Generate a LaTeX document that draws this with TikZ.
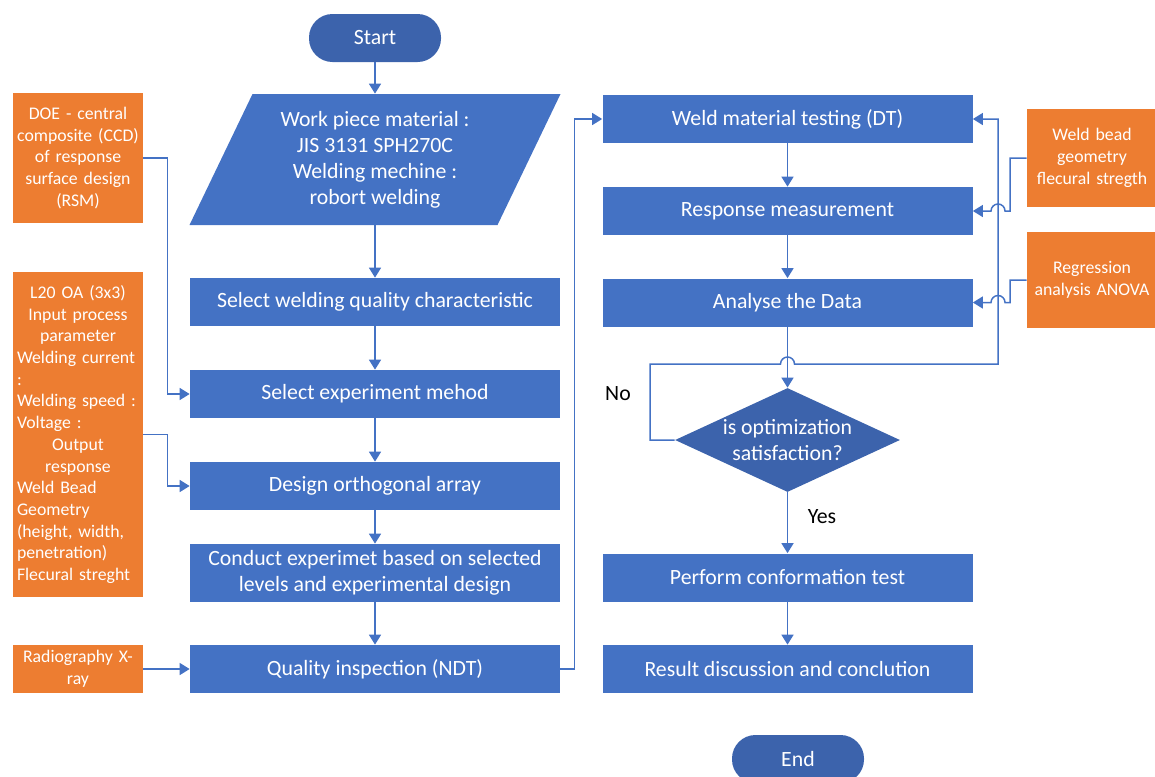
\documentclass[tikz,border=0pt]{standalone}
\usepackage{fontspec}
\setmainfont{Carlito}
\usepackage{xcolor}
\usepackage{tikz}
\usetikzlibrary{arrows.meta,shapes.geometric}
\definecolor{boxblue}{HTML}{4472C4}
\definecolor{termblue}{HTML}{3C63AC}
\definecolor{sideorange}{HTML}{ED7D31}
\newcommand{\boxfont}{\fontsize{12.4}{14.8}\selectfont}
\newcommand{\sidefont}{\fontsize{10.1}{12.35}\selectfont}
\setlength{\parindent}{0pt}

\begin{document}
\begin{tikzpicture}[
  font=\boxfont,
  >={Triangle[length=0.2cm, width=0.24cm]},
  % ---- node styles ----
  terminal/.style={
    fill=termblue, text=white, rounded corners=0.47cm,
    minimum width=2.64cm, minimum height=0.96cm
  },
  stepbox/.style={
    fill=boxblue, text=white, align=center,
    minimum width=7.4cm, minimum height=0.96cm, inner sep=2pt
  },
  iobox/.style={
    text=white, align=center, inner sep=0pt,
    minimum width=6.2cm, minimum height=2.62cm
  },
  decision/.style={
    diamond, fill=termblue, text=white, align=center, aspect=2.16,
    inner sep=-2pt, minimum width=4.5cm, minimum height=2.08cm
  },
  sidebox/.style={
    fill=sideorange, text=white, font=\sidefont, align=center,
    text width=2.44cm, inner xsep=0.08cm
  },
  flow/.style={->, draw=boxblue, line width=0.03cm},
  note/.style={text=black},
]
\useasboundingbox (0,0) rectangle (23.1,-15.52);

% ---- Left column ----
\node[terminal] (start) at (7.5,-0.76) {Start};
\fill[boxblue] (5.05,-1.88) -- (11.21,-1.88) -- (9.95,-4.50) -- (3.79,-4.50) -- cycle;
\node[iobox] (mat) at (7.5,-3.19)
  {Work piece material :\\JIS 3131 SPH270C\\Welding mechine :\\robort welding};
\node[stepbox] (qual) at (7.5,-6.04)  {Select welding quality characteristic};
\node[stepbox] (meth) at (7.5,-7.88)  {Select experiment mehod};
\node[stepbox] (arr)  at (7.5,-9.72)  {Design orthogonal array};
\node[stepbox, minimum height=1.16cm] (cond) at (7.5,-11.46)
  {Conduct experimet based on selected\\levels and experimental design};
\node[stepbox] (ndt)  at (7.5,-13.38) {Quality inspection (NDT)};

% ---- Side inputs (left) ----
\node[sidebox, minimum height=2.6cm] (doe) at (1.56,-3.16)
  {DOE - central\\composite (CCD)\\of response\\surface design\\(RSM)};
\node[sidebox, align=left, minimum height=6.5cm] (l20) at (1.56,-8.69) {%
  {\centering L20 OA (3x3)\\Input process\\parameter\par}
  Welding current\\:\\Welding speed :\\Voltage :\par
  {\centering Output\\response\par}
  Weld Bead\\Geometry\\(height, width,\\penetration)\\Flecural streght};
\node[sidebox, minimum height=0.96cm] (xray) at (1.56,-13.38)
  {Radiography X-\\ray};

% ---- Right column ----
\node[stepbox] (dt)   at (15.75,-2.38)  {Weld material testing (DT)};
\node[stepbox] (resp) at (15.75,-4.22)  {Response measurement};
\node[stepbox] (ana)  at (15.75,-6.05)  {Analyse the Data};
\node[decision] (dec) at (15.75,-8.80)  {is optimization\\satisfaction?};
\node[stepbox] (conf) at (15.75,-11.55) {Perform conformation test};
\node[stepbox] (res)  at (15.75,-13.38) {Result discussion and conclution};
\node[terminal] (end) at (15.96,-15.18) {End};

% ---- Side inputs (right) ----
\node[sidebox, minimum height=1.96cm] (bead) at (21.84,-3.16)
  {Weld bead\\geometry\\flecural stregth};
\node[sidebox, minimum height=1.92cm] (regr) at (21.84,-5.60)
  {Regression\\analysis ANOVA};

% ---- Branch labels ----
\node[note] (no)  at (12.36,-7.88)  {No};
\node[note] (yes) at (16.44,-10.34) {Yes};

% ---- Main flow ----
\draw[flow] (start) -- (mat);
\draw[flow] (mat) -- (qual);
\draw[flow] (qual) -- (meth);
\draw[flow] (meth) -- (arr);
\draw[flow] (arr) -- (cond);
\draw[flow] (cond) -- (ndt);
\draw[flow] (ndt.east) -- ++(0.28,0) |- (dt.west);
\draw[flow] (dt) -- (resp);
\draw[flow] (resp) -- (ana);
\draw[flow] (ana) -- (dec);
\draw[flow] (dec) -- (conf);
\draw[flow] (conf) -- (res);

% ---- Side input arrows ----
\draw[flow] (doe.east) -- ++(0.48,0) |- (meth.west);
\draw[flow] (l20.east) -- ++(0.48,0) |- (arr.west);
\draw[flow] (xray) -- (ndt);
\draw[flow] (bead.west) -| (20.2,-4.22) -- (20.10,-4.22)
  arc[start angle=0, end angle=180, radius=0.14] -- (resp.east);
\draw[flow] (regr.west) -| (20.2,-6.05) -- (20.10,-6.05)
  arc[start angle=0, end angle=180, radius=0.14] -- (ana.east);

% ---- No loop ----
\draw[flow] (dec.west) -| (13.0,-7.28) -- (15.61,-7.28)
  arc[start angle=180, end angle=0, radius=0.14] -- (19.96,-7.28) |- (dt.east);

\end{tikzpicture}
\end{document}
